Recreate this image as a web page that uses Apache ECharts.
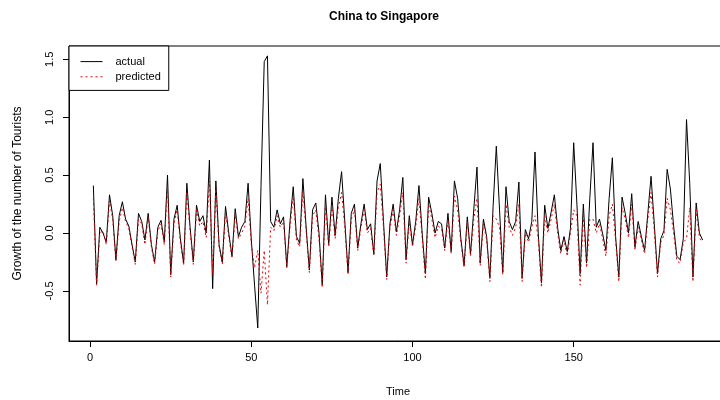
<!DOCTYPE html>
<html>
<head>
<meta charset="utf-8">
<script src="https://cdn.jsdelivr.net/npm/echarts@6/dist/echarts.min.js"></script>
<style>
  html, body { margin: 0; padding: 0; background: #fff; }
  #chart { width: 720px; height: 400px; }
</style>
</head>
<body>
<div id="chart"></div>
<script>
// monthly growth, China -> Singapore
const actual = [
  0.41, -0.44, 0.05, 0.0, -0.08, 0.33, 0.15, -0.23, 0.15, 0.27,
  0.12, 0.06, -0.1, -0.25, 0.17, 0.1, -0.06, 0.17, -0.1, -0.25,
  0.05, 0.11, -0.08, 0.5, -0.36, 0.12, 0.24, -0.05, -0.26, 0.43,
  0.05, -0.25, 0.24, 0.1, 0.15, 0.0, 0.63, -0.48, 0.45, -0.1,
  -0.25, 0.23, 0.0, -0.2, 0.21, -0.03, 0.05, 0.1, 0.43, -0.06,
  -0.45, -0.82, 0.4, 1.48, 1.53, 0.1, 0.05, 0.2, 0.08, 0.14,
  -0.29, 0.1, 0.4, -0.03, -0.09, 0.47, 0.05, -0.32, 0.2, 0.26,
  0.0, -0.45, 0.33, -0.1, 0.31, -0.02, 0.3, 0.53, 0.1, -0.34,
  0.17, 0.25, -0.13, 0.08, 0.25, 0.03, 0.08, -0.18, 0.45, 0.6,
  0.1, -0.38, 0.08, 0.25, 0.01, 0.2, 0.48, -0.23, 0.15, -0.1,
  0.1, 0.41, 0.0, -0.35, 0.31, 0.17, 0.0, 0.1, 0.08, -0.13,
  0.17, -0.16, 0.45, 0.3, -0.05, -0.28, 0.14, -0.18, 0.2, 0.57,
  -0.26, 0.12, -0.03, -0.39, 0.23, 0.75, 0.2, -0.34, 0.4, 0.1,
  0.03, 0.1, 0.44, -0.39, 0.03, -0.05, 0.1, 0.7, 0.0, -0.43,
  0.24, 0.04, 0.18, 0.33, 0.05, -0.15, -0.03, -0.16, 0.04, 0.78,
  0.25, -0.35, 0.25, -0.26, 0.3, 0.78, 0.05, 0.12, -0.01, -0.15,
  0.3, 0.65, -0.03, -0.38, 0.31, 0.17, 0.0, 0.34, -0.12, 0.1,
  -0.03, -0.15, 0.17, 0.49, 0.08, -0.35, -0.05, 0.02, 0.55, 0.38,
  0.06, -0.2, -0.23, -0.05, 0.98, 0.43, -0.38, 0.26, 0.0, -0.06
];
const predicted = [
  0.3, -0.45, 0.0, 0.02, -0.1, 0.28, 0.12, -0.25, 0.1, 0.22,
  0.1, 0.04, -0.12, -0.27, 0.12, 0.08, -0.1, 0.14, -0.12, -0.27,
  0.02, 0.08, -0.1, 0.4, -0.38, 0.08, 0.2, -0.08, -0.28, 0.36,
  0.02, -0.27, 0.2, 0.06, 0.1, -0.04, 0.45, -0.35, 0.38, -0.12,
  -0.27, 0.18, -0.03, -0.22, 0.16, -0.05, 0.0, 0.06, 0.3, -0.1,
  -0.3, -0.15, -0.52, -0.15, -0.62, 0.05, 0.02, 0.15, 0.05, 0.1,
  -0.3, 0.05, 0.32, -0.06, -0.12, 0.36, 0.02, -0.34, 0.15, 0.2,
  -0.05, -0.47, 0.25, -0.12, 0.24, -0.05, 0.22, 0.35, 0.05, -0.36,
  0.12, 0.2, -0.15, 0.05, 0.2, 0.0, 0.04, -0.2, 0.35, 0.42,
  0.05, -0.4, 0.04, 0.2, -0.02, 0.15, 0.35, -0.26, 0.1, -0.12,
  0.06, 0.3, -0.04, -0.4, 0.25, 0.12, -0.04, 0.06, 0.04, -0.15,
  0.12, -0.18, 0.32, 0.2, -0.08, -0.3, 0.1, -0.2, 0.12, 0.3,
  -0.28, 0.08, -0.06, -0.42, 0.15, 0.12, 0.05, -0.36, 0.25, 0.05,
  -0.02, 0.05, 0.25, -0.42, 0.0, -0.08, 0.05, 0.15, -0.05, -0.47,
  0.15, 0.0, 0.12, 0.25, 0.0, -0.18, -0.06, -0.2, 0.0, 0.2,
  0.15, -0.45, 0.15, -0.3, 0.12, 0.12, 0.0, 0.08, -0.05, -0.2,
  0.15, 0.25, -0.06, -0.42, 0.22, 0.12, -0.04, 0.25, -0.15, 0.05,
  -0.06, -0.18, 0.12, 0.35, 0.02, -0.38, -0.08, -0.02, 0.3, 0.2,
  0.0, -0.24, -0.26, -0.08, -0.05, 0.22, -0.42, 0.2, -0.04, -0.08
];
const xTicks = [0, 50, 100, 150];
const yTicks = [-0.5, 0, 0.5, 1, 1.5];

const font = "'Liberation Sans', Arial, sans-serif";
const chart = echarts.init(document.getElementById('chart'));

const option = {
  animation: false,
  backgroundColor: '#fff',
  title: {
    text: 'China to Singapore',
    left: 324,
    top: 6,
    textStyle: { fontFamily: font, fontSize: 12, fontWeight: 'bold', color: '#000' }
  },
  legend: {
    orient: 'vertical',
    left: 69,
    top: 46,
    padding: [10, 8, 8, 11],
    itemWidth: 22,
    itemHeight: 14,
    itemGap: 4,
    borderColor: '#000',
    borderWidth: 1,
    borderRadius: 0,
    backgroundColor: '#fff',
    itemStyle: { opacity: 0 },
    lineStyle: { width: 1 },
    textStyle: { fontFamily: font, fontSize: 11, color: '#000', padding: [0, 0, 0, 8] },
    data: ['actual', 'predicted']
  },
  grid: {
    left: 69,
    right: -7,
    top: 46,
    bottom: 59,
    outerBoundsMode: 'none',
    show: true,
    borderColor: '#000',
    borderWidth: 1
  },
  xAxis: {
    type: 'value',
    min: -6.56,
    max: 197.56,
    name: 'Time',
    nameLocation: 'middle',
    nameGap: 45,
    nameTextStyle: { fontFamily: font, fontSize: 11, color: '#000' },
    axisLine: { show: true, onZero: false, lineStyle: { color: '#000' } },
    axisTick: { show: true, inside: false, length: 6, customValues: xTicks, lineStyle: { color: '#000' } },
    axisLabel: { customValues: xTicks, margin: 11, fontFamily: font, fontSize: 11, color: '#000' },
    splitLine: { show: false }
  },
  yAxis: {
    type: 'value',
    min: -0.932,
    max: 1.615,
    name: 'Growth of the number of Tourists',
    nameLocation: 'middle',
    nameGap: 45,
    nameTextStyle: { fontFamily: font, fontSize: 12, color: '#000' },
    axisLine: { show: true, onZero: false, lineStyle: { color: '#000' } },
    axisTick: { show: true, inside: false, length: 6, customValues: yTicks, lineStyle: { color: '#000' } },
    axisLabel: {
      customValues: yTicks,
      rotate: 90,
      margin: 14,
      fontFamily: font,
      fontSize: 11,
      color: '#000',
      formatter: v => v.toFixed(1)
    },
    splitLine: { show: false }
  },
  series: [
    {
      name: 'actual',
      type: 'line',
      symbol: 'none',
      data: actual.map((v, k) => [k + 1, v]),
      lineStyle: { color: '#000', width: 1 },
      itemStyle: { color: '#000' }
    },
    {
      name: 'predicted',
      type: 'line',
      symbol: 'none',
      data: predicted.map((v, k) => [k + 1, v]),
      lineStyle: { color: '#e00000', width: 1, type: [2, 3] },
      itemStyle: { color: '#e00000' }
    }
  ]
};

chart.setOption(option);
</script>
</body>
</html>
